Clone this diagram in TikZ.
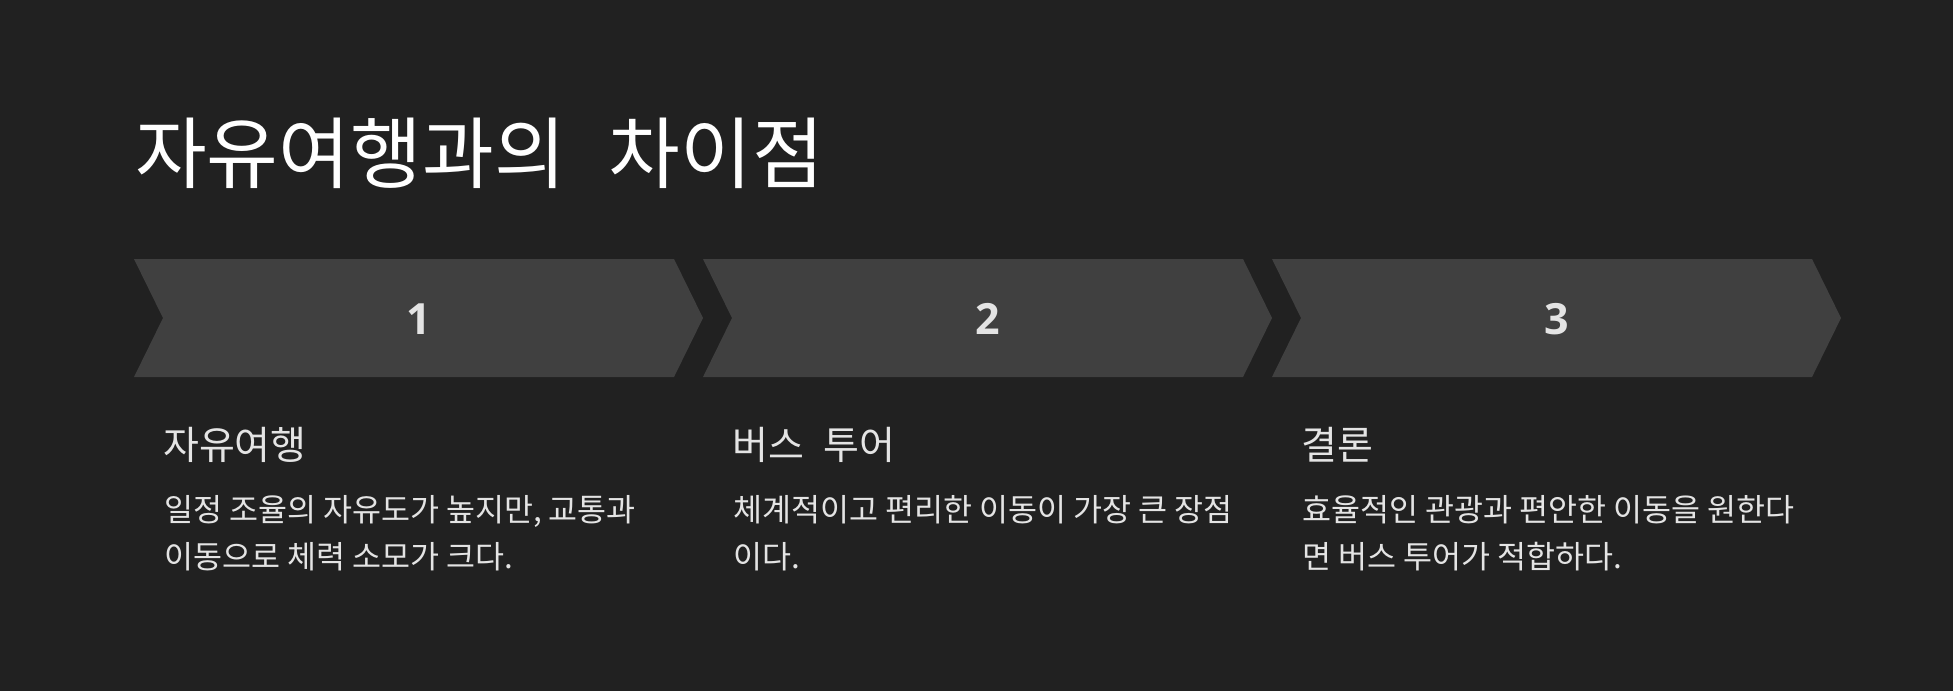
\documentclass[tikz,border=0pt]{standalone}
\usepackage{fontspec}
\newfontfamily\kr{Noto Sans CJK KR}
\newfontfamily\numfont{Open Sans}
\definecolor{bg}{HTML}{212121}
\definecolor{chev}{HTML}{404040}
\definecolor{txt}{HTML}{E4E4E4}
\definecolor{titlec}{HTML}{FFFFFF}
\tikzset{
  chevshape/.style={fill=chev},
  numlabel/.style={inner sep=0pt, text=txt, font=\numfont\bfseries\fontsize{43}{50}\selectfont},
  titlelabel/.style={inner sep=0pt, anchor=base west, text=titlec, font=\kr\fontsize{78}{86}\selectfont},
  headlabel/.style={inner sep=0pt, anchor=base west, text=txt, font=\kr\fontsize{39}{45}\selectfont},
  bodylabel/.style={inner sep=0pt, anchor=base west, text=txt, font=\kr\fontsize{31.5}{48}\selectfont},
}
\begin{document}
\begin{tikzpicture}[x=1pt,y=-1pt]
\fill[bg] (0,0) rectangle (1953,691);
\useasboundingbox (0,0) rectangle (1953,691);
% chevrons
\foreach \L in {134,703,1272}{
  \fill[chevshape] (\L,259) -- ({\L+540},259) -- ({\L+569},318) -- ({\L+540},377) -- (\L,377) -- ({\L+29},318) -- cycle;
}
\node[numlabel] (n1) at (418.5,319) {1};
\node[numlabel] (n2) at (987.5,319) {2};
\node[numlabel] (n3) at (1556.5,319) {3};
% title
\node[titlelabel] (title) at (135,182.5) {자유여행과의\hspace{0.55em}차이점};
% column 1
\node[headlabel] (h1) at (163,459) {자유여행};
\node[bodylabel] (b1a) at (164,521) {일정 조율의 자유도가 높지만, 교통과};
\node[bodylabel] (b1b) at (164,568.5) {이동으로 체력 소모가 크다.};
% column 2
\node[headlabel] (h2) at (732,459) {버스\hspace{0.5em}투어};
\node[bodylabel] (b2a) at (733,521) {체계적이고 편리한 이동이 가장 큰 장점};
\node[bodylabel] (b2b) at (733,568.5) {이다.};
% column 3
\node[headlabel] (h3) at (1301,459) {결론};
\node[bodylabel] (b3a) at (1302,521) {효율적인 관광과 편안한 이동을 원한다};
\node[bodylabel] (b3b) at (1302,568.5) {면 버스 투어가 적합하다.};
\end{tikzpicture}
\end{document}
